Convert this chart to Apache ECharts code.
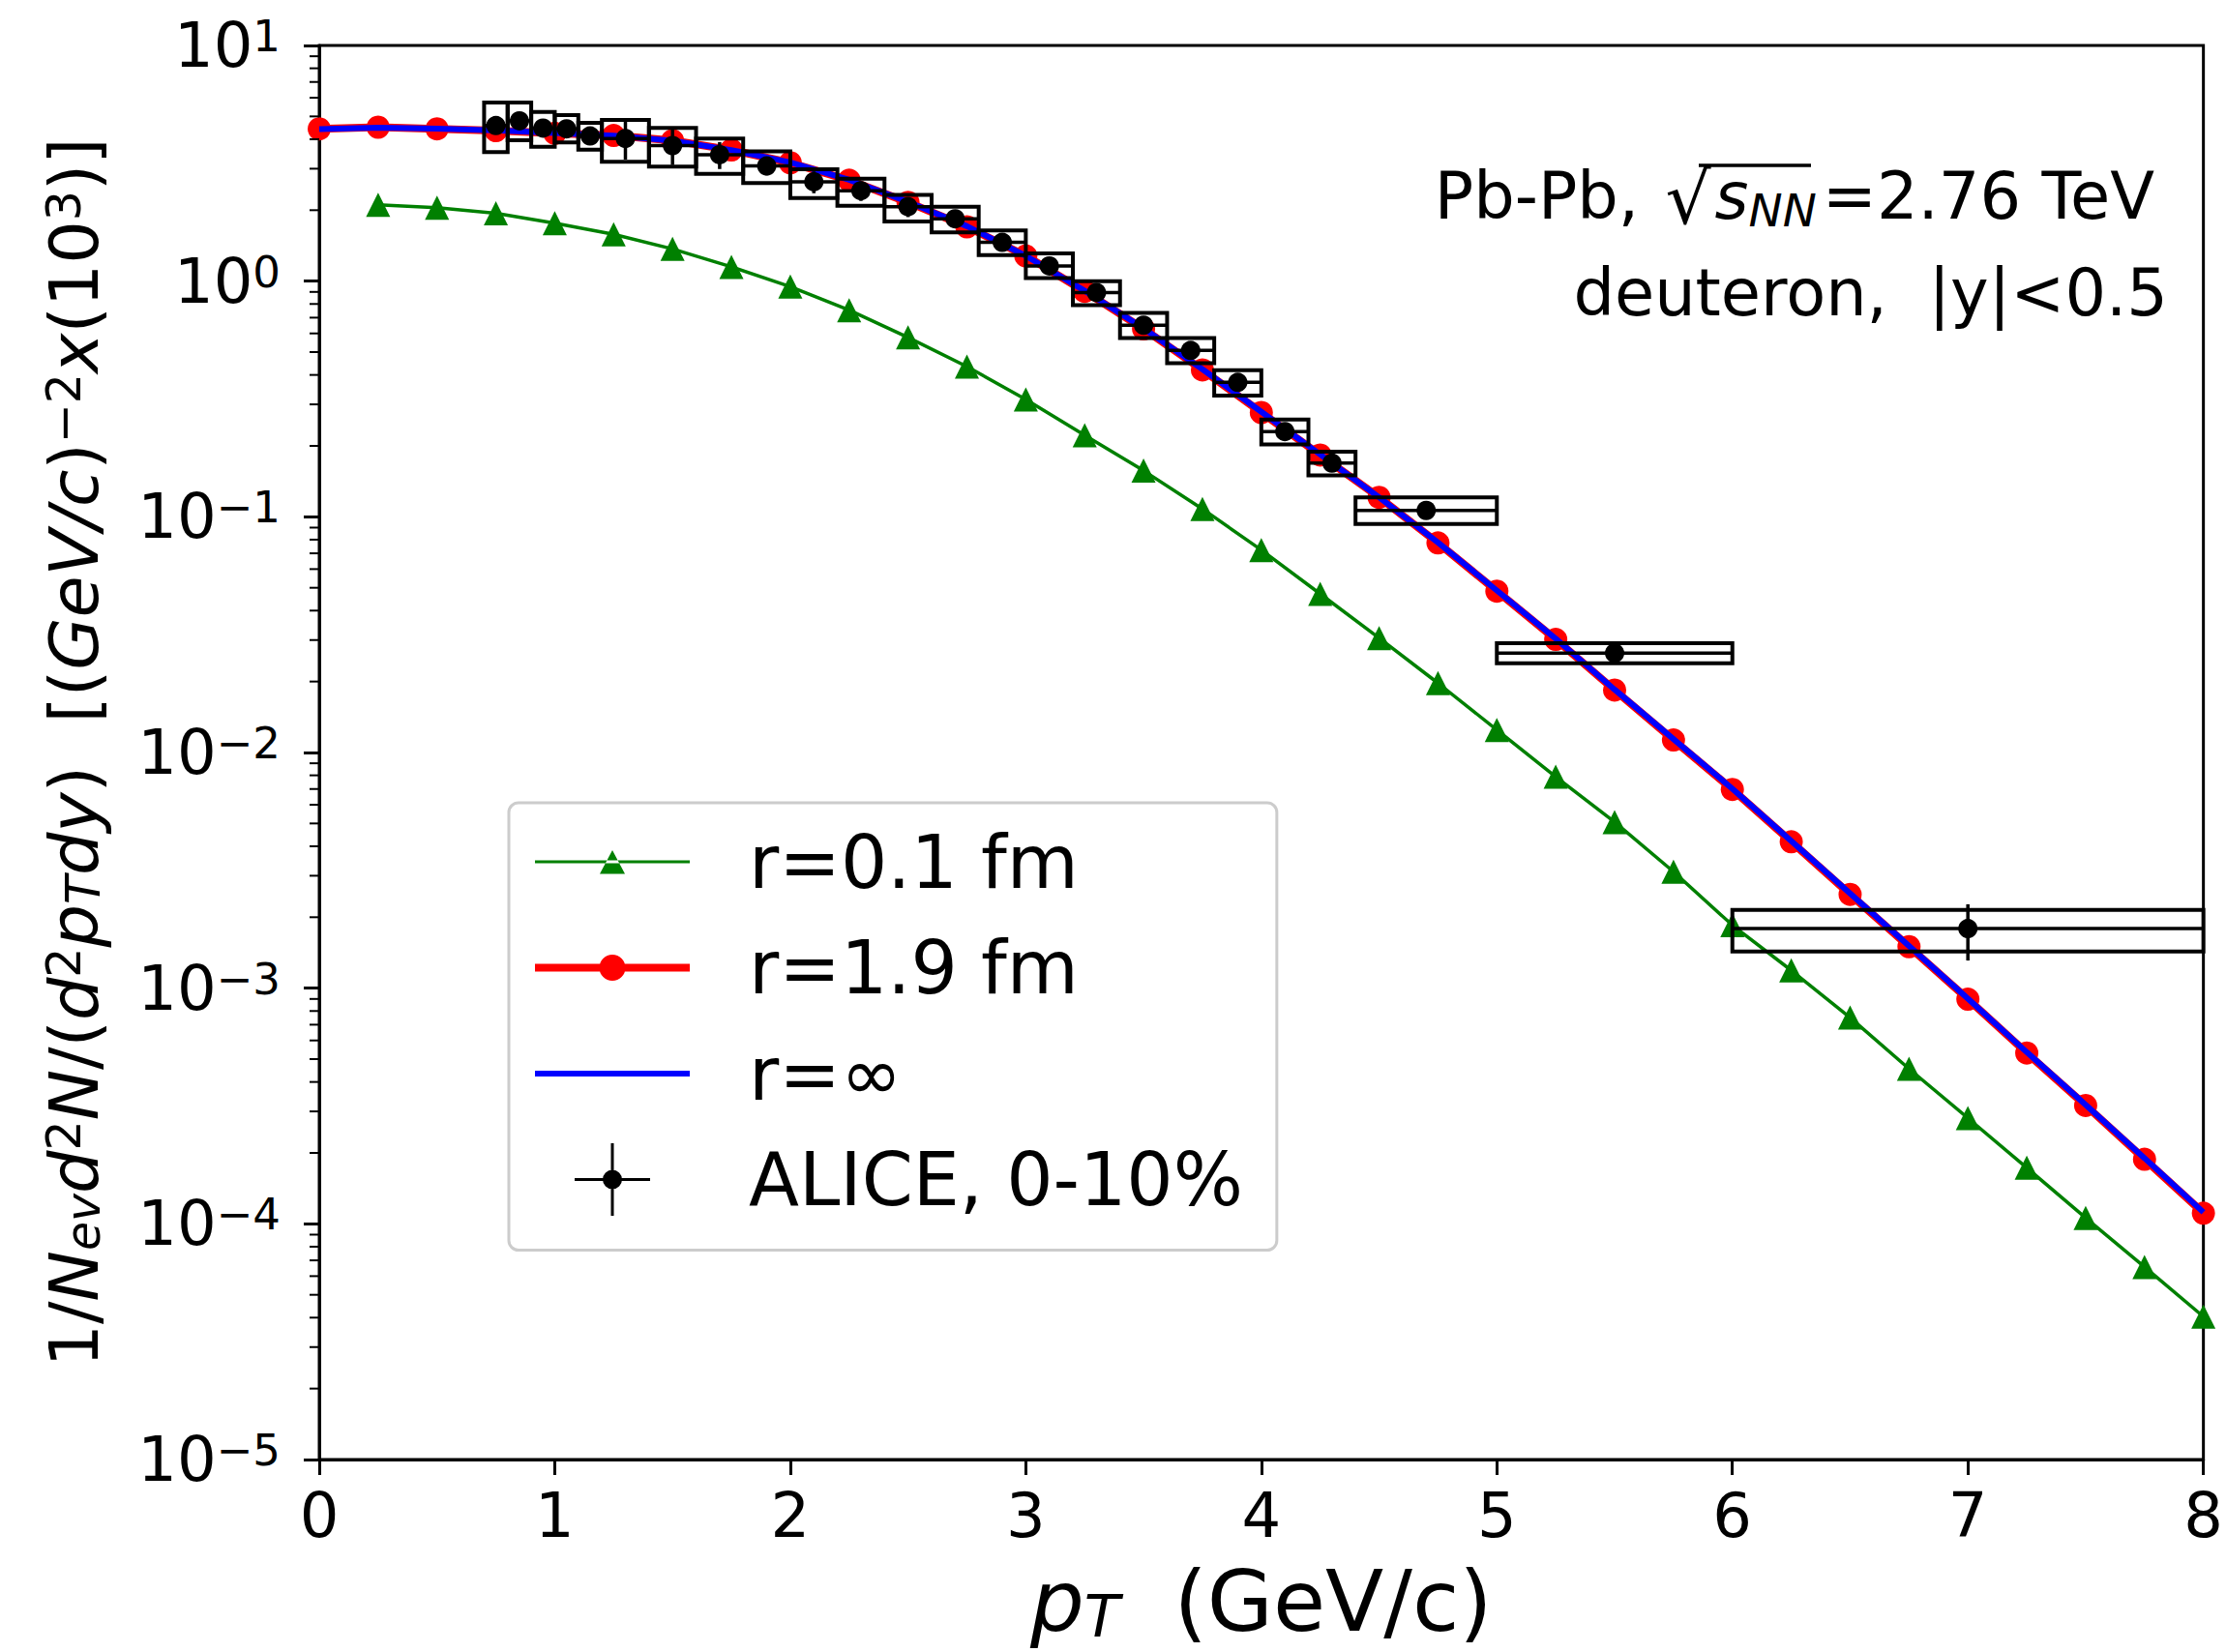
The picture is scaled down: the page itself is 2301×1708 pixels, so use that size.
<!DOCTYPE html>
<html><head><meta charset="utf-8">
<script src="https://cdn.jsdelivr.net/npm/echarts@6/dist/echarts.min.js"></script>
<style>html,body{margin:0;padding:0;background:#fff}#c{width:2301px;height:1708px}</style>
</head><body><div id="c"></div>
<script>
const FONT = 'DejaVu Sans';

// ---- x tick labels (pT) ----
const xTicks = [0, 1, 2, 3, 4, 5, 6, 7, 8];
// ---- y decades (log axis, 10^-5 .. 10^1) ----
const yDecades = [-5, -4, -3, -2, -1, 0, 1];

// ---- theory: r = 0.1 fm (green triangles) ----
const ptGreen = [0.25,0.5,0.75,1,1.25,1.5,1.75,2,2.25,2.5,2.75,3,3.25,3.5,3.75,4,4.25,4.5,4.75,5,5.25,5.5,5.75,6,6.25,6.5,6.75,7,7.25,7.5,7.75,8];
const r01 = [2.11,2.05,1.94,1.76,1.58,1.37,1.15,0.948,0.753,0.577,0.434,0.315,0.222,0.157,0.108,0.0723,0.0471,0.0306,0.0197,0.01247,0.00789,0.00507,0.00312,0.00185,0.00119,0.00075,0.000455,0.000281,0.000173,0.000106,0.0000656,0.0000404];

// ---- theory: r = 1.9 fm (red circles) ----
const ptRed = [0,0.25,0.5,0.75,1,1.25,1.5,1.75,2,2.25,2.5,2.75,3,3.25,3.5,3.75,4,4.25,4.5,4.75,5,5.25,5.5,5.75,6,6.25,6.5,6.75,7,7.25,7.5,7.75,8];
const r19 = [4.43,4.5,4.43,4.35,4.24,4.15,3.95,3.6,3.18,2.68,2.16,1.70,1.28,0.905,0.627,0.42,0.277,0.183,0.121,0.0775,0.0484,0.0302,0.0184,0.0113,0.00697,0.00418,0.0025,0.0015,0.000898,0.000531,0.000318,0.000188,0.000111];

// ---- theory: r = infinity (blue line) ----
const ptBlue = [0,0.25,0.5,0.75,1,1.25,1.5,1.75,2,2.25,2.5,2.75,3,3.25,3.5,3.75,4,4.25,4.5,4.75,5,5.25,5.5,5.75,6,6.25,6.5,6.75,7,7.25,7.5,7.75,8];
const rInf = [4.42,4.48,4.44,4.36,4.25,4.14,3.94,3.6,3.19,2.69,2.17,1.71,1.28,0.91,0.63,0.423,0.279,0.184,0.121,0.0778,0.0487,0.0304,0.0185,0.0114,0.00702,0.00421,0.00252,0.00151,0.000903,0.000535,0.00032,0.00019,0.000112];

// ---- ALICE 0-10% data ----
const aliceX     = [0.75,0.85,0.95,1.05,1.15,1.3,1.5,1.7,1.9,2.1,2.3,2.5,2.7,2.9,3.1,3.3,3.5,3.7,3.9,4.1,4.3,4.7,5.5,7.0];
const aliceBinLo = [0.7,0.8,0.9,1.0,1.1,1.2,1.4,1.6,1.8,2.0,2.2,2.4,2.6,2.8,3.0,3.2,3.4,3.6,3.8,4.0,4.2,4.4,5.0,6.0];
const aliceBinHi = [0.8,0.9,1.0,1.1,1.2,1.4,1.6,1.8,2.0,2.2,2.4,2.6,2.8,3.0,3.2,3.4,3.6,3.8,4.0,4.2,4.4,5.0,6.0,8.0];
const aliceY     = [4.57,4.79,4.46,4.43,4.13,4.03,3.76,3.44,3.08,2.64,2.42,2.07,1.84,1.46,1.16,0.895,0.650,0.508,0.372,0.230,0.169,0.1064,0.0264,0.00179];
const aliceSysHi = [5.73,5.73,5.22,5.06,4.69,4.83,4.47,4.03,3.55,2.98,2.72,2.32,2.07,1.64,1.31,1.00,0.733,0.573,0.419,0.259,0.189,0.121,0.0291,0.00215];
const aliceSysLo = [3.53,3.96,3.72,3.88,3.61,3.21,3.06,2.85,2.61,2.25,2.09,1.79,1.61,1.29,1.03,0.79,0.573,0.449,0.327,0.203,0.150,0.0933,0.0239,0.00143];
const aliceStat  = [0.1,0.1,0.1,0.1,0.1,0.75,0.65,0.45,0.27,0.28,0.23,0.2,0.1,0.06,0.04,0.03,0.02,0.015,0.01,0.006,0.004,0.006,0.0012,0.00048];

// ---- minor tick multipliers on the log axis ----
const minorMult = [2,3,4,5,6,7,8,9];

function pairs(xs, ys){ return xs.map((x,i)=>[x, ys[i]]); }
const aliceData = aliceX.map((x,i)=>[x, aliceY[i], aliceBinLo[i], aliceBinHi[i], aliceSysLo[i], aliceSysHi[i], aliceY[i]-aliceStat[i], aliceY[i]+aliceStat[i]]);
const minorData = [];
yDecades.slice(0, -1).forEach(d => minorMult.forEach(m => minorData.push([0, m * Math.pow(10, d)])));

const chart = echarts.init(document.getElementById('c'), null, {renderer: 'svg', width: 2301, height: 1708});

const supTxt = e => (e < 0 ? '\u2212' + (-e) : '' + e);

// legend icon paths (bbox 160 x 75, centred at y = 37.5)
const speck = 'M0,0 L0.05,0 L0,0.05 Z M160,75 L159.95,75 L160,74.95 Z ';
const iconGreen = 'path://' + speck + 'M0,36 L160,36 L160,39 L0,39 Z M67,50 L93,50 L80,25.5 Z';
const iconRed   = 'path://' + speck + 'M0,33.5 L160,33.5 L160,41.5 L0,41.5 Z M66.5,37.5 A13.5,13.5 0 1 1 93.5,37.5 A13.5,13.5 0 1 1 66.5,37.5 Z';
const iconBlue  = 'path://' + speck + 'M0,34.5 L160,34.5 L160,40.5 L0,40.5 Z';
const iconAlice = 'path://' + speck + 'M41,36 L119,36 L119,39 L41,39 Z M78.5,0 L81.5,0 L81.5,75 L78.5,75 Z M70,37.5 A10,10 0 1 1 90,37.5 A10,10 0 1 1 70,37.5 Z';

const option = {
  animation: false,
  backgroundColor: '#ffffff',
  textStyle: {fontFamily: FONT},
  grid: {left: 330, top: 47, right: 19, bottom: 197, show: true, borderColor: '#000', borderWidth: 3, backgroundColor: '#fff'},
  xAxis: {
    type: 'value', min: 0, max: 8, interval: 1,
    axisLine: {show: true, lineStyle: {color: '#000', width: 3}},
    axisTick: {show: true, inside: false, length: 16, lineStyle: {color: '#000', width: 3}},
    splitLine: {show: false},
    axisLabel: {fontSize: 64, color: '#000', fontFamily: FONT, margin: 26,
      formatter: v => (xTicks.indexOf(v) >= 0 ? String(v) : '')},
    name: '{i|p}{sb|T}{n|  (GeV/c)}',
    nameLocation: 'middle', nameGap: 104,
    nameTextStyle: {
      color: '#000', fontFamily: FONT, fontSize: 88,
      rich: {
        n: {fontSize: 88, lineHeight: 88, fontFamily: FONT, color: '#000', padding: [0,0,4,0]},
        i: {fontSize: 88, lineHeight: 88, fontFamily: FONT, fontStyle: 'italic', color: '#000', padding: [0,0,4,0]},
        sb: {fontSize: 60, lineHeight: 60, fontFamily: FONT, fontStyle: 'italic', color: '#000', verticalAlign: 'bottom'}
      }
    }
  },
  yAxis: {
    type: 'log', logBase: 10, min: 1e-5, max: 10, splitNumber: 6,
    axisLine: {show: true, lineStyle: {color: '#000', width: 3}},
    axisTick: {show: true, inside: false, length: 16, lineStyle: {color: '#000', width: 3}},
    splitLine: {show: false},
    minorTick: {show: false},
    axisLabel: {
      margin: 40, color: '#000', fontFamily: FONT,
      formatter: v => { const e = Math.round(Math.log10(v)); return '{b|10}{s|' + supTxt(e) + '}'; },
      rich: {
        b: {fontSize: 64, lineHeight: 64, fontFamily: FONT, color: '#000', padding: [10,0,10,0]},
        s: {fontSize: 45, lineHeight: 45, fontFamily: FONT, color: '#000', verticalAlign: 'top'}
      }
    },
    name: '{n|1/}{i|N}{sb|ev}{i|d}{sp|2}{i|N}{n|/(}{i|d}{sp|2}{i|p}{sb|T}{i|dy}{n|)  [(}{i|GeV/c}{n|)}{sp|\u22122}{i|x}{n|(10}{sp|3}{n|)]}',
    nameLocation: 'middle', nameRotate: 90, nameGap: 218,
    nameTextStyle: {
      color: '#000', fontFamily: FONT, fontSize: 70,
      rich: {
        n: {fontSize: 70, lineHeight: 70, fontFamily: FONT, color: '#000', padding: [10,0,10,0]},
        i: {fontSize: 70, lineHeight: 70, fontFamily: FONT, fontStyle: 'italic', color: '#000', padding: [10,0,10,0]},
        sp: {fontSize: 49, lineHeight: 49, fontFamily: FONT, color: '#000', verticalAlign: 'top'},
        sb: {fontSize: 49, lineHeight: 49, fontFamily: FONT, fontStyle: 'italic', color: '#000', verticalAlign: 'bottom', padding: [0,0,1,0]}
      }
    }
  },
  legend: {
    orient: 'vertical', left: 526, top: 830,
    padding: [21, 35, 33, 27],
    backgroundColor: '#fff', borderColor: '#cccccc', borderWidth: 3, borderRadius: 10,
    itemWidth: 160, itemHeight: 75, itemGap: 29.5,
    selectedMode: false,
    itemStyle: {borderWidth: 0},
    textStyle: {fontSize: 76, lineHeight: 80, fontFamily: FONT, color: '#000', padding: [0,0,0,56]},
    data: [
      {name: 'r=0.1 fm', icon: iconGreen},
      {name: 'r=1.9 fm', icon: iconRed},
      {name: 'r=\u221e', icon: iconBlue},
      {name: 'ALICE, 0-10%', icon: iconAlice}
    ]
  },
  graphic: [
    {type: 'text', x: 2227, y: 205, z: 100,
      style: {text: '{n|Pb-Pb, }{r|\u221a}{i|s}{sb|NN}{n|=2.76 TeV}', align: 'right', verticalAlign: 'middle', fill: '#000',
        rich: {
          n: {fontSize: 67, lineHeight: 67, fontFamily: FONT, fill: '#000', padding: [0,0,4,0]},
          r: {fontSize: 74, lineHeight: 71, fontFamily: FONT, fill: '#000', padding: [0,4,0,6]},
          i: {fontSize: 67, lineHeight: 67, fontFamily: FONT, fontStyle: 'italic', fill: '#000', padding: [0,0,4,0]},
          sb: {fontSize: 47, lineHeight: 47, fontFamily: FONT, fontStyle: 'italic', fill: '#000', verticalAlign: 'bottom', padding: [0,6,0,0]}
        }}},
    {type: 'line', z: 100, shape: {x1: 1756, y1: 171, x2: 1872, y2: 171}, style: {stroke: '#000', lineWidth: 3.5}},
    {type: 'text', x: 2241, y: 303, z: 100,
      style: {text: 'deuteron,  |y|<0.5', align: 'right', verticalAlign: 'middle', fill: '#000', fontSize: 67, fontFamily: FONT}}
  ],
  series: [
    {name: 'r=0.1 fm', type: 'line', data: pairs(ptGreen, r01), color: '#008000',
      symbol: 'triangle', symbolSize: 25, showAllSymbol: true,
      lineStyle: {width: 3.5, color: '#008000'}, itemStyle: {color: '#008000', borderWidth: 0}, z: 2},
    {name: 'r=1.9 fm', type: 'line', data: pairs(ptRed, r19), color: '#ff0000',
      symbol: 'circle', symbolSize: 24, showAllSymbol: true,
      lineStyle: {width: 8, color: '#ff0000'}, itemStyle: {color: '#ff0000', borderWidth: 0}, z: 3},
    {name: 'r=\u221e', type: 'line', data: pairs(ptBlue, rInf), color: '#0000ff',
      symbol: 'none', lineStyle: {width: 6, color: '#0000ff'}, itemStyle: {color: '#0000ff'}, z: 4},
    {name: 'ALICE, 0-10%', type: 'custom', data: aliceData, color: '#000', itemStyle: {color: '#000'}, z: 5,
      renderItem: (params, api) => {
        const p = api.coord([api.value(0), api.value(1)]);
        const tl = api.coord([api.value(2), api.value(5)]);
        const br = api.coord([api.value(3), api.value(4)]);
        const sLo = api.coord([api.value(0), api.value(6)]);
        const sHi = api.coord([api.value(0), api.value(7)]);
        const xl = api.coord([api.value(2), api.value(1)]);
        const xr = api.coord([api.value(3), api.value(1)]);
        return {type: 'group', children: [
          {type: 'rect', shape: {x: tl[0], y: tl[1], width: br[0]-tl[0], height: br[1]-tl[1]}, style: {fill: 'none', stroke: '#000', lineWidth: 4}},
          {type: 'line', shape: {x1: xl[0], y1: xl[1], x2: xr[0], y2: xr[1]}, style: {stroke: '#000', lineWidth: 3.5}},
          {type: 'line', shape: {x1: sLo[0], y1: sLo[1], x2: sHi[0], y2: sHi[1]}, style: {stroke: '#000', lineWidth: 3.5}},
          {type: 'circle', shape: {cx: p[0], cy: p[1], r: 10}, style: {fill: '#000'}}
        ]};
      }},
    {name: 'minorTicks', type: 'custom', data: minorData, silent: true, z: 6,
      renderItem: (params, api) => {
        const p = api.coord([api.value(0), api.value(1)]);
        return {type: 'line', shape: {x1: p[0]-10, y1: p[1], x2: p[0], y2: p[1]}, style: {stroke: '#000', lineWidth: 2}};
      }}
  ]
};
chart.setOption(option);
</script>
</body></html>
